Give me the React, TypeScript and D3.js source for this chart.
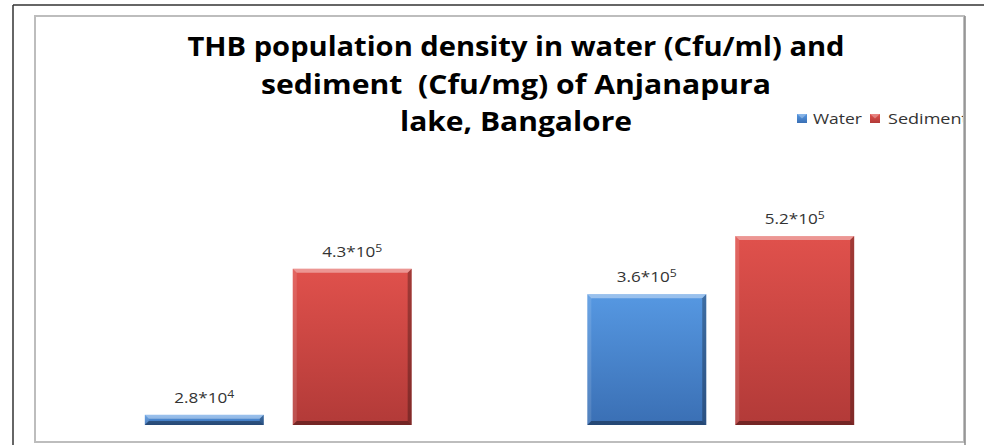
import React, { useRef, useEffect } from "react";
import * as d3 from "d3";

// chart data
const sites = ["Site 1", "Site 2"];
const seriesNames = ["Water", "Sediment"];
const waterValues = [28000, 360000];
const sedimentValues = [430000, 520000];
const titleLines = [
  "THB population density in water (Cfu/ml) and",
  "sediment  (Cfu/mg) of Anjanapura",
  "lake, Bangalore",
];

const W = 984;
const H = 445;

const App = () => {
  const svgRef = useRef<SVGSVGElement>(null);

  useEffect(() => {
    const svg = d3.select(svgRef.current);
    svg.selectAll("*").remove();

    const font = "'Open Sans', Calibri, sans-serif";
    const defs = svg.append("defs");
    const grads: Record<string, [string, string]> = {
      Water: ["#5698e2", "#3a6fb4"],
      Sediment: ["#e0514c", "#b23a38"],
    };
    Object.entries(grads).forEach(([k, [c0, c1]]) => {
      const g = defs
        .append("linearGradient")
        .attr("id", "g-" + k)
        .attr("x1", 0)
        .attr("y1", 0)
        .attr("x2", 0)
        .attr("y2", 1);
      g.append("stop").attr("offset", "0%").attr("stop-color", c0);
      g.append("stop").attr("offset", "100%").attr("stop-color", c1);
    });

    // page frame
    svg.append("rect").attr("width", W).attr("height", H).attr("fill", "#fff");
    svg
      .append("line")
      .attr("x1", 13)
      .attr("x2", W)
      .attr("y1", 5)
      .attr("y2", 5)
      .attr("stroke", "#333")
      .attr("stroke-width", 1.5);
    svg
      .append("line")
      .attr("x1", 13)
      .attr("x2", 13)
      .attr("y1", 5)
      .attr("y2", H)
      .attr("stroke", "#333")
      .attr("stroke-width", 1.5);

    // title
    const titleWidths = [657, 510, 232];
    svg
      .append("g")
      .selectAll("text")
      .data(titleLines)
      .join("text")
      .attr("x", 516)
      .attr("y", (d, i) => 56 + i * 37.5)
      .attr("text-anchor", "middle")
      .attr("font-family", font)
      .attr("font-weight", "bold")
      .attr("font-size", 26)
      .attr("fill", "#000")
      .attr("textLength", (d, i) => titleWidths[i])
      .attr("lengthAdjust", "spacingAndGlyphs")
      .style("white-space", "pre")
      .text((d) => d);

    // scales
    const x0 = d3
      .scaleBand()
      .domain(sites)
      .range([57, 942])
      .paddingInner(0.397)
      .paddingOuter(0.1985);
    const x1 = d3
      .scaleBand()
      .domain(seriesNames)
      .range([0, x0.bandwidth()])
      .paddingInner(0.196)
      .paddingOuter(0);
    const y = d3.scaleLinear().domain([0, 600000]).range([425, 207]);

    const rows = sites.flatMap((s, i) => [
      { site: s, series: "Water", value: waterValues[i] },
      { site: s, series: "Sediment", value: sedimentValues[i] },
    ]);

    const b = 4;
    const bars = svg
      .append("g")
      .selectAll("g")
      .data(rows)
      .join("g")
      .attr("transform", (d) => `translate(${x0(d.site)! + x1(d.series)!},0)`);

    bars
      .append("rect")
      .attr("x", 0)
      .attr("y", (d) => y(d.value))
      .attr("width", x1.bandwidth())
      .attr("height", (d) => y(0) - y(d.value))
      .attr("fill", (d) => `url(#g-${d.series})`);

    const bevel = (d: any, side: string) => {
      const w = x1.bandwidth();
      const t = y(d.value);
      const bt = y(0);
      const bb = Math.min(b, (bt - t) / 2);
      const p: Record<string, number[][]> = {
        top: [[0, t], [w, t], [w - bb, t + bb], [bb, t + bb]],
        bottom: [[0, bt], [w, bt], [w - bb, bt - bb], [bb, bt - bb]],
        left: [[0, t], [bb, t + bb], [bb, bt - bb], [0, bt]],
        right: [[w, t], [w - bb, t + bb], [w - bb, bt - bb], [w, bt]],
      };
      return p[side].map((q) => q.join(",")).join(" ");
    };
    const shades: [string, string, number][] = [
      ["top", "#fff", 0.4],
      ["left", "#fff", 0.12],
      ["right", "#000", 0.28],
      ["bottom", "#000", 0.35],
    ];
    shades.forEach(([side, c, o]) => {
      bars
        .append("polygon")
        .attr("points", (d) => bevel(d, side))
        .attr("fill", c)
        .attr("fill-opacity", o);
    });

    // value labels like 4.3*10^5 (stretched a little, as in the original)
    const lbl = bars
      .append("text")
      .attr(
        "transform",
        (d) => `translate(${x1.bandwidth() / 2},${y(d.value) - 12}) scale(1.22,1)`
      )
      .attr("text-anchor", "middle")
      .attr("font-family", font)
      .attr("font-size", 14)
      .attr("fill", "#333");
    lbl.append("tspan").text((d) => {
      const e = Math.floor(Math.log10(d.value));
      return (d.value / Math.pow(10, e)).toFixed(1) + "*10";
    });
    lbl
      .append("tspan")
      .attr("dy", -5)
      .attr("font-size", 10)
      .text((d) => String(Math.floor(Math.log10(d.value))));

    // legend
    const legX = [797, 870];
    const legW = [49, 80];
    const leg = svg
      .append("g")
      .selectAll("g")
      .data(seriesNames)
      .join("g")
      .attr("transform", (d, i) => `translate(${legX[i]},114)`);
    leg
      .append("rect")
      .attr("width", 10)
      .attr("height", 9)
      .attr("fill", (d) => `url(#g-${d})`);
    leg
      .append("polygon")
      .attr("points", "0,0 10,0 5,4.5")
      .attr("fill", "#fff")
      .attr("fill-opacity", 0.3);
    leg
      .append("text")
      .attr("x", (d, i) => (i === 0 ? 16 : 18))
      .attr("y", 10)
      .attr("font-family", font)
      .attr("font-size", 15)
      .attr("fill", "#333")
      .attr("textLength", (d, i) => legW[i])
      .attr("lengthAdjust", "spacingAndGlyphs")
      .text((d) => d);

    // inner chart border, drawn last so it clips the legend visually
    svg
      .append("rect")
      .attr("x", 35)
      .attr("y", 16)
      .attr("width", 929)
      .attr("height", 426)
      .attr("fill", "none")
      .attr("stroke", "#bdbdbd")
      .attr("stroke-width", 2);
    svg
      .append("rect")
      .attr("x", 965)
      .attr("y", 16)
      .attr("width", W - 965)
      .attr("height", H - 16)
      .attr("fill", "#fff");
    svg
      .append("line")
      .attr("x1", 965)
      .attr("x2", 965)
      .attr("y1", 16)
      .attr("y2", H)
      .attr("stroke", "#8a8a8a")
      .attr("stroke-width", 1.5);
  }, []);

  return (
    <svg
      ref={svgRef}
      width={W}
      height={H}
      style={{ position: "absolute", left: 0, top: 0 }}
    ></svg>
  );
};

export default App;
